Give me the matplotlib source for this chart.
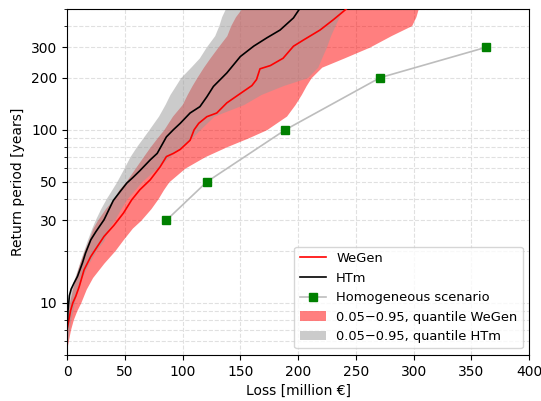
import matplotlib
matplotlib.use("Agg")
import matplotlib.pyplot as plt
from matplotlib.ticker import FixedLocator, ScalarFormatter, NullFormatter
import numpy as np

# median loss curves (loss in million EUR, return period in years)
wegen_loss = [0, 3, 5, 7.5, 10.5, 14.7, 20.5, 26.3, 32, 40.5, 48.8, 56, 63, 72, 80.5,
              86, 92, 98, 106.5, 110, 114, 121, 129.6, 138.3, 150, 160, 164, 167, 176,
              187, 196, 204.6, 219, 230.6, 245]
wegen_rp = [7.0, 9.0, 10.0, 10.9, 12.4, 15.5, 18.5, 21.2, 24.2, 28, 33, 39.4, 45, 51.4, 61,
            70, 73, 77, 87, 100, 109, 119, 125, 143, 162, 180, 195, 225, 235,
            259, 304, 330, 377, 433, 520]

htm_loss = [0, 0.8, 2, 3.5, 6, 9, 13.3, 16, 20.5, 25, 32, 40, 46, 51.7, 57, 63, 72, 78,
            86, 92, 98, 106.5, 115, 121, 126.7, 138.3, 150, 161.5, 173, 184.4, 196, 203]
htm_rp = [7.0, 9, 11, 12, 13, 14.2, 17, 19.4, 23.1, 25.8, 30.2, 39, 44, 49.2, 53, 58, 67, 73,
          91, 100, 109, 125, 136, 155, 178, 213, 265, 304, 340, 377, 443, 520]

# homogeneous scenario
homo_loss = [86, 121, 189, 271, 363]
homo_rp = [30, 50, 100, 200, 300]

# quantile bands on a common return period grid
rp_grid = [5.5, 6, 7, 8, 9, 10, 12, 14, 17, 20, 23, 27, 30, 35, 40, 45, 50, 60, 70, 80,
           90, 100, 120, 140, 160, 180, 200, 230, 260, 300, 350, 400, 450, 500]
wegen_q05 = [0, 0, 0, 0.3, 1.2, 2, 4.7, 7.2, 11, 14.9, 18.6, 22.4, 26.3, 33.2, 40.6, 44.8,
             50.8, 59, 66, 72.2, 78.1, 83.7, 91.3, 99.7, 104, 108.2, 112.3, 118.1, 123.7,
             130.6, 138.3, 141.7, 145.8, 151]
wegen_q95 = [0, 1.0, 3.0, 5.4, 8.4, 11.8, 16.6, 22.1, 32, 41.4, 48.2, 56.5, 63.9, 72.6,
             78.8, 83.4, 88.1, 102, 119.5, 138.6, 157.3, 172.6, 190, 197.4, 202.8, 207,
             211.3, 220.5, 239.8, 261.7, 280.5, 298.3, 302, 304]
htm_q05 = [0, 0, 0, 0.3, 0.9, 1.5, 3.1, 6.6, 10.8, 14.3, 17.5, 21.4, 24.3, 29.1, 33.9, 38.7,
           42.9, 49.3, 54.5, 60.2, 65.8, 70.8, 79.2, 84.8, 89.1, 94, 98.3, 107.1, 114.5,
           120.4, 127.8, 131.4, 133.8, 137]
htm_q95 = [0, 0.4, 1.9, 3.1, 5, 6.3, 9, 13, 19, 25.2, 32, 36, 41.1, 46.6, 52, 58.8, 64.5,
           78, 89, 98.7, 108.2, 115, 127.3, 153, 168, 187, 208, 217, 220.4, 224.5, 228.1,
           232, 235.6, 239]

yticks = [10, 30, 50, 100, 200, 300]

fig, ax = plt.subplots(figsize=(5.41, 4.01), dpi=100)
fig.subplots_adjust(left=0.124, right=0.978, top=0.978, bottom=0.115)

ax.plot(wegen_loss, wegen_rp, color='red', lw=1.2, label='WeGen', zorder=4)
ax.plot(htm_loss, htm_rp, color='black', lw=1.2, label='HTm', zorder=4)
ax.plot(homo_loss, homo_rp, color='#bdbdbd', lw=1.2, marker='s', markersize=6,
        markerfacecolor='green', markeredgecolor='green', label='Homogeneous scenario',
        zorder=3)
ax.fill_betweenx(rp_grid, wegen_q05, wegen_q95, color='red', alpha=0.5, lw=0,
                 label='0.05\u22120.95, quantile WeGen', zorder=1)
ax.fill_betweenx(rp_grid, htm_q05, htm_q95, color=(0.6, 0.6, 0.6), alpha=0.5, lw=0,
                 label='0.05\u22120.95, quantile HTm', zorder=2)

ax.set_yscale('log')
ax.set_xlim(0, 400)
ax.set_ylim(5, 500)
ax.yaxis.set_major_locator(FixedLocator(yticks))
ax.yaxis.set_major_formatter(ScalarFormatter())
ax.yaxis.set_minor_formatter(NullFormatter())
ax.grid(True, which='both', linestyle='--', color='#e0e0e0', lw=0.8)
ax.set_axisbelow(True)

ax.set_xlabel('Loss [million \u20ac]')
ax.set_ylabel('Return period [years]')
ax.legend(loc='lower right', fontsize=9.4)

fig.savefig('out.png', dpi=100)
